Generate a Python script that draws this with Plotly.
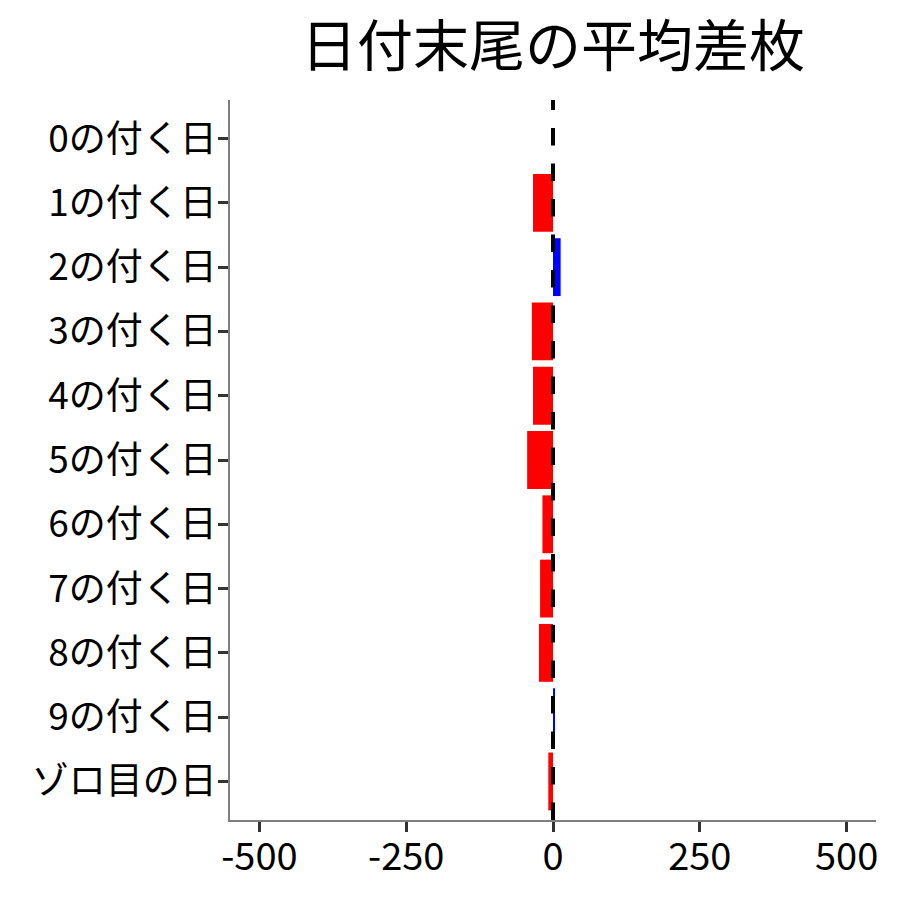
import plotly.graph_objects as go

categories = ["0の付く日", "1の付く日", "2の付く日", "3の付く日", "4の付く日",
              "5の付く日", "6の付く日", "7の付く日", "8の付く日", "9の付く日", "ゾロ目の日"]
values = [0, -34, 13, -36, -34, -44, -18, -22, -24, 2, -8]
tick_vals = [-500, -250, 0, 250, 500]
title_text = "日付末尾の平均差枚"

colors = ["blue" if v > 0 else "red" for v in values]

FONT = "Noto Sans CJK JP"

fig = go.Figure()
fig.add_trace(go.Bar(
    x=values, y=categories, orientation="h",
    marker=dict(color=colors, line=dict(width=0)),
    width=0.9, showlegend=False,
))

fig.add_shape(type="line", xref="x", yref="paper", x0=0, x1=0, y0=0, y1=1,
              line=dict(color="black", width=4, dash="17.5px,18px"), layer="above")

W = 892
H = 892
fig.update_layout(
    width=W, height=H,
    margin=dict(l=222, r=24, t=92, b=80, autoexpand=False),
    paper_bgcolor="white", plot_bgcolor="white",
    font=dict(family=FONT, color="black"),
    title=dict(text=title_text, x=0.5, xref="paper", xanchor="center",
               y=1 - 38 / H, yref="container", yanchor="middle",
               font=dict(size=56, family=FONT, color="black")),
    xaxis=dict(range=[-550, 550], tickvals=tick_vals, ticktext=[str(v) for v in tick_vals],
               showgrid=False, zeroline=False, showline=True, linecolor="#7f7f7f", linewidth=1.5,
               ticks="outside", ticklen=10, tickwidth=3, tickcolor="#333333", automargin=False,
               ticklabelstandoff=-7,
               tickfont=dict(size=38, family=FONT, color="black")),
    yaxis=dict(categoryorder="array", categoryarray=categories,
               range=[len(categories) - 0.4, -0.6],
               showgrid=False, zeroline=False, showline=True, linecolor="#7f7f7f", linewidth=1.5,
               ticks="outside", ticklen=10, tickwidth=3, tickcolor="#333333", automargin=False,
               ticklabelstandoff=-6,
               tickfont=dict(size=37, family=FONT, color="black")),
    bargap=0.1,
)

fig.write_html("out.html")
